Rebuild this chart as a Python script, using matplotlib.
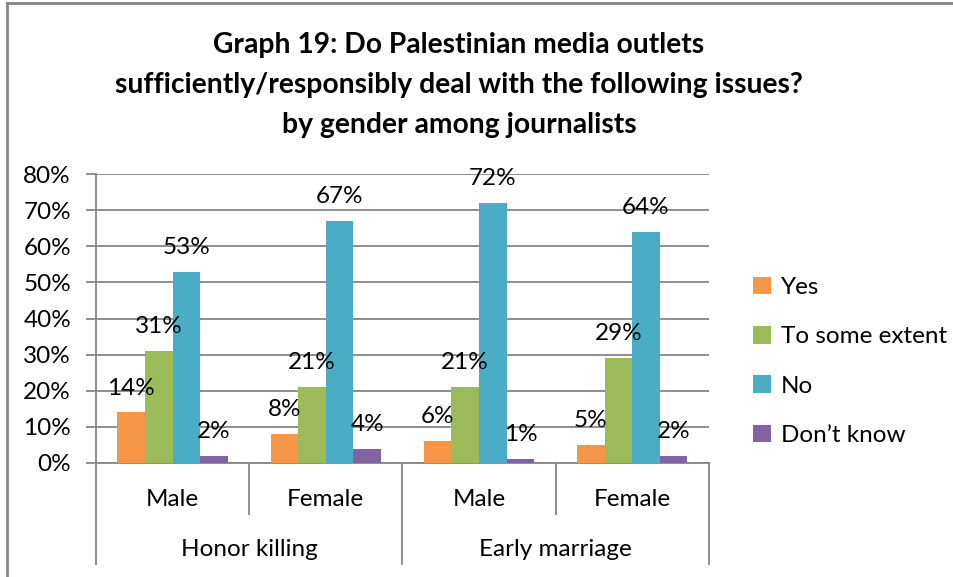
import matplotlib.pyplot as plt
from matplotlib.lines import Line2D
import numpy as np

plt.rcParams['font.family'] = ['Lato', 'DejaVu Sans']

# survey answers, one list per response, ordered as the x categories
issues = ["Honor killing", "Early marriage"]
genders = ["Male", "Female", "Male", "Female"]
responses = ["Yes", "To some extent", "No", "Don\u2019t know"]
yes = [14, 8, 6, 5]
some_extent = [31, 21, 21, 29]
no = [53, 67, 72, 64]
dont_know = [2, 4, 1, 2]
colors = ["#F79646", "#9BBB59", "#4BACC6", "#8064A2"]

series = [yes, some_extent, no, dont_know]
fs = 17.5

fig = plt.figure(figsize=(9.54, 5.77), dpi=100)
ax = fig.add_axes([0.1006, 0.1976, 0.6424, 0.5008])

grid_color = "#868686"
x = np.arange(len(genders))
width = 0.18
offsets = (np.arange(len(series)) - 1.5) * width

for vals, off, col, name in zip(series, offsets, colors, responses):
    fracs = [v / 100 for v in vals]
    bars = ax.bar(x + off, fracs, width, color=col, label=name, zorder=3)
    for b, v in zip(bars, vals):
        ax.annotate(f"{v}%", (b.get_x() + b.get_width() / 2, b.get_height()),
                    xytext=(0, 10), textcoords="offset points",
                    ha="center", va="bottom", fontsize=fs, zorder=4)

ax.set_xlim(-0.5, 3.5)
ax.set_ylim(0, 0.8)
ax.set_yticks(np.arange(0, 0.81, 0.1))
ax.set_yticklabels([f"{int(round(t * 100))}%" for t in np.arange(0, 0.81, 0.1)], fontsize=fs)
ax.yaxis.grid(True, color=grid_color, linewidth=1.3, zorder=0)
ax.tick_params(axis="y", length=7, color=grid_color, width=1.3, pad=11)
ax.tick_params(axis="x", length=0, labelbottom=False)
for side in ["top", "right"]:
    ax.spines[side].set_visible(False)
for side in ["left", "bottom"]:
    ax.spines[side].set_color(grid_color)
    ax.spines[side].set_linewidth(1.3)

# two-level category axis: gender row, then issue row
trans = ax.get_xaxis_transform()
for pos in [-0.5, 1.5, 3.5]:
    ax.add_line(Line2D([pos, pos], [0, -0.35], transform=trans, color=grid_color,
                       linewidth=1.3, clip_on=False))
for pos in [0.5, 2.5]:
    ax.add_line(Line2D([pos, pos], [0, -0.175], transform=trans, color=grid_color,
                       linewidth=1.3, clip_on=False))
for xi, g in zip(x, genders):
    ax.text(xi, -0.125, g, transform=trans, ha="center", va="center", fontsize=fs)
for i, issue in enumerate(issues):
    ax.text(2 * i + 0.5, -0.30, issue, transform=trans, ha="center", va="center", fontsize=fs)

fig.text(0.481, 0.853,
         "Graph 19: Do Palestinian media outlets\n"
         "sufficiently/responsibly deal with the following issues?\n"
         "by gender among journalists",
         ha="center", va="center", fontsize=20.3, fontweight="bold", linespacing=1.68)

fig.legend(loc="center left", bbox_to_anchor=(0.766, 0.374), frameon=False,
           fontsize=fs, handlelength=0.75, handleheight=0.75, handletextpad=0.4,
           labelspacing=1.15)

# chart frame (left and top edges)
fx, fy = 7 / 954, 1 - 3 / 577
fig.add_artist(Line2D([fx, fx], [0, fy], transform=fig.transFigure,
                      color=grid_color, linewidth=2))
fig.add_artist(Line2D([fx, 1], [fy, fy], transform=fig.transFigure,
                      color=grid_color, linewidth=2))

fig.savefig("out.png", dpi=100)
